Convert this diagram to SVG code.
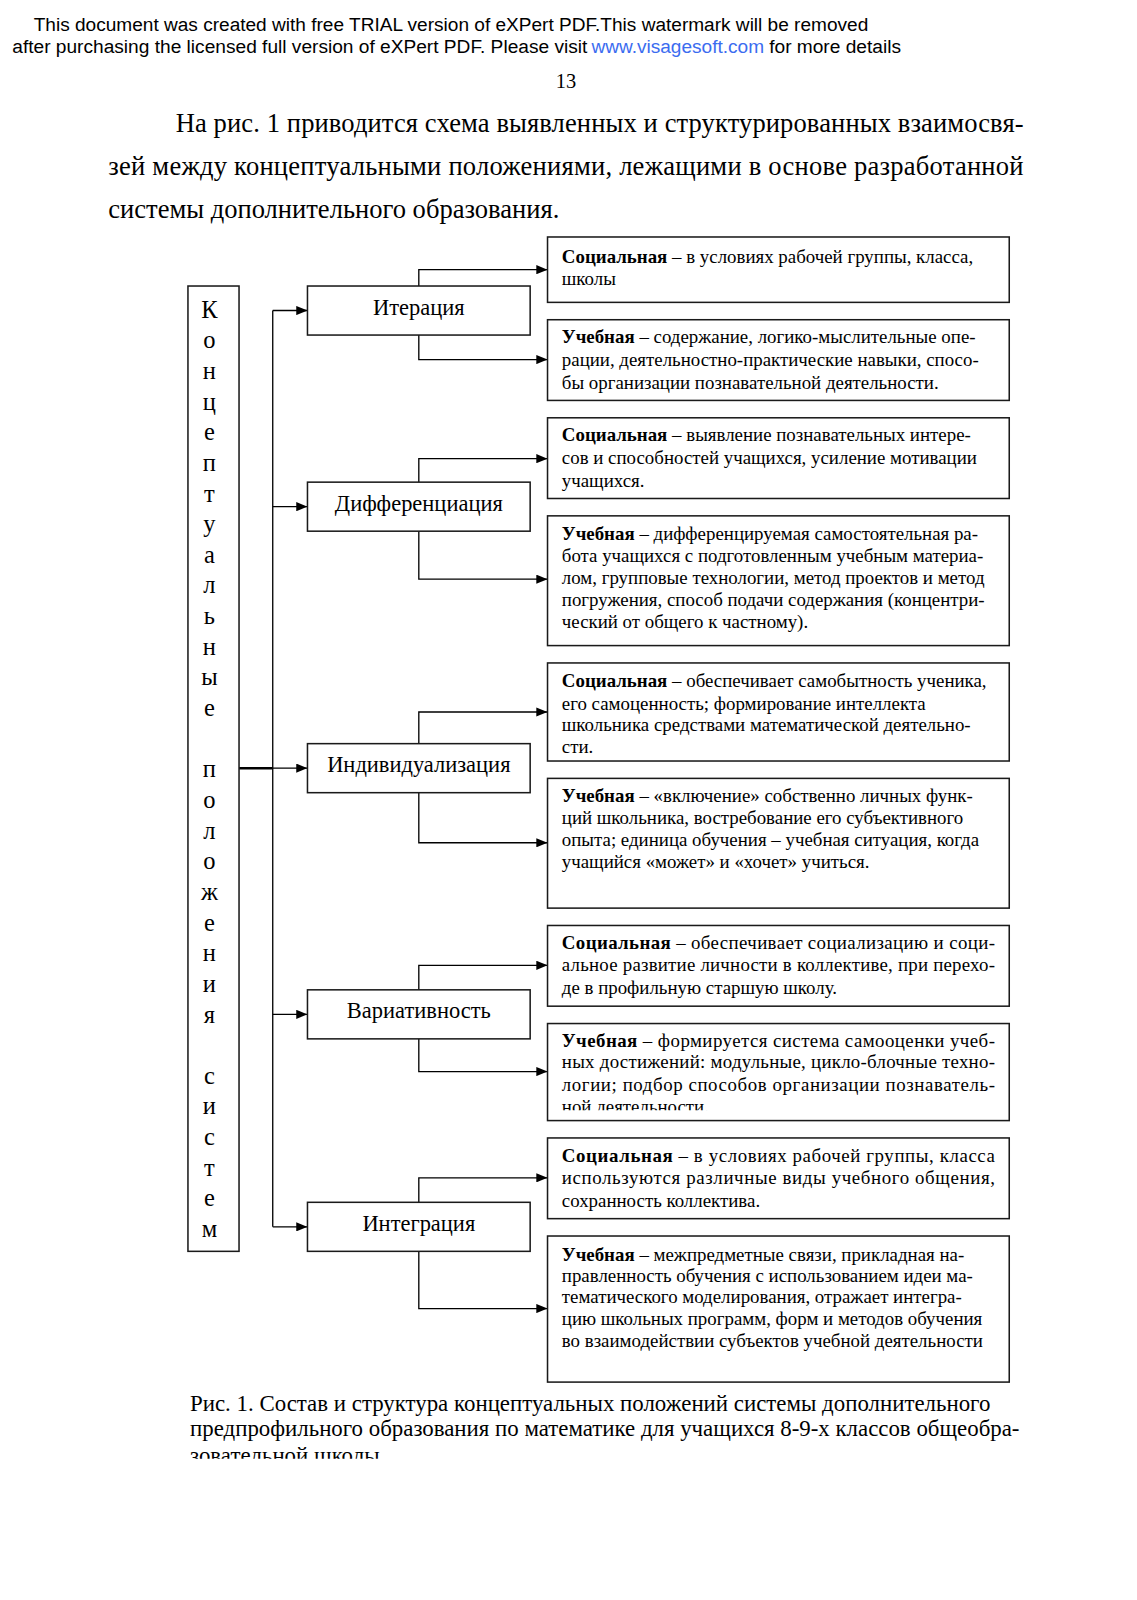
<svg xmlns="http://www.w3.org/2000/svg" width="1137" height="1600" viewBox="0 0 1137 1600">
<style>
.wm{font-family:"Liberation Sans",Arial,sans-serif;font-size:18px;fill:#000}
.lnk{fill:#3b6cf0}
.tm{font-family:"Liberation Serif","Times New Roman",serif;fill:#000}
.para{font-size:26px}
.lt{font-size:24px;text-anchor:middle}
.mid{font-size:22px;text-anchor:middle}
.bx{font-size:18.5px}
.b{font-weight:bold}
.cap{font-size:22.4px}
.box{fill:#fff;stroke:#1a1a1a;stroke-width:1.5}
.con{fill:none;stroke:#000;stroke-width:1.3}
</style>
<defs>
<marker id="ar" markerWidth="11" markerHeight="9" refX="11" refY="4.5" orient="auto" markerUnits="userSpaceOnUse">
<path d="M0,0 L11,4.5 L0,9 Z" fill="#000"/>
</marker>
<clipPath id="clipCap"><rect x="0" y="1350" width="1137" height="78"/></clipPath>
<clipPath id="clipB8"><rect x="536" y="1002" width="452" height="85"/></clipPath>
</defs>
<rect width="1137" height="1600" fill="#fff"/>
<g transform="scale(1.0215)">
<g id="header">
<text class="wm" x="33" y="30" textLength="817" lengthAdjust="spacingAndGlyphs">This document was created with free TRIAL version of eXPert PDF.This watermark will be removed</text>
<text class="wm" x="12" y="52" textLength="563" lengthAdjust="spacingAndGlyphs">after purchasing the licensed full version of eXPert PDF. Please visit</text>
<text class="wm lnk" x="579" y="52" textLength="169" lengthAdjust="spacingAndGlyphs">www.visagesoft.com</text>
<text class="wm" x="753" y="52" textLength="129" lengthAdjust="spacingAndGlyphs">for more details</text>
<text class="tm" x="554" y="86" font-size="20" text-anchor="middle">13</text>
<text class="tm para" x="172" y="129" textLength="830" lengthAdjust="spacing">На рис. 1 приводится схема выявленных и структурированных взаимосвя-</text>
<text class="tm para" x="106" y="171" textLength="896" lengthAdjust="spacing">зей между концептуальными положениями, лежащими в основе разработанной</text>
<text class="tm para" x="106" y="213">системы дополнительного образования.</text>
</g>
<g id="connectors">
<line x1="267" y1="304" x2="267" y2="1201" class="con"/>
<line x1="234" y1="752" x2="267" y2="752" stroke="#000" stroke-width="2.5"/>
<line x1="267" y1="304" x2="301" y2="304" class="con" marker-end="url(#ar)"/>
<line x1="267" y1="496" x2="301" y2="496" class="con" marker-end="url(#ar)"/>
<line x1="267" y1="752" x2="301" y2="752" class="con" marker-end="url(#ar)"/>
<line x1="267" y1="993" x2="301" y2="993" class="con" marker-end="url(#ar)"/>
<line x1="267" y1="1201" x2="301" y2="1201" class="con" marker-end="url(#ar)"/>
<path d="M410,280 V264 H536" class="con" marker-end="url(#ar)"/>
<path d="M410,328 V352 H536" class="con" marker-end="url(#ar)"/>
<path d="M410,472 V449 H536" class="con" marker-end="url(#ar)"/>
<path d="M410,520 V567 H536" class="con" marker-end="url(#ar)"/>
<path d="M410,728 V697 H536" class="con" marker-end="url(#ar)"/>
<path d="M410,776 V825 H536" class="con" marker-end="url(#ar)"/>
<path d="M410,969 V945 H536" class="con" marker-end="url(#ar)"/>
<path d="M410,1017 V1049 H536" class="con" marker-end="url(#ar)"/>
<path d="M410,1177 V1153 H536" class="con" marker-end="url(#ar)"/>
<path d="M410,1225 V1281 H536" class="con" marker-end="url(#ar)"/>
</g>
<g id="root">
<rect class="box" x="184" y="280" width="50" height="945"/>
<text class="tm lt">
<tspan x="205" y="311">К</tspan><tspan x="205" y="341">о</tspan><tspan x="205" y="371">н</tspan><tspan x="205" y="401">ц</tspan><tspan x="205" y="431">е</tspan><tspan x="205" y="461">п</tspan><tspan x="205" y="491">т</tspan><tspan x="205" y="521">у</tspan><tspan x="205" y="551">а</tspan><tspan x="205" y="581">л</tspan><tspan x="205" y="611">ь</tspan><tspan x="205" y="641">н</tspan><tspan x="205" y="671">ы</tspan><tspan x="205" y="701">е</tspan><tspan x="205" y="761">п</tspan><tspan x="205" y="791">о</tspan><tspan x="205" y="821">л</tspan><tspan x="205" y="851">о</tspan><tspan x="205" y="881">ж</tspan><tspan x="205" y="911">е</tspan><tspan x="205" y="941">н</tspan><tspan x="205" y="971">и</tspan><tspan x="205" y="1001">я</tspan><tspan x="205" y="1061">с</tspan><tspan x="205" y="1091">и</tspan><tspan x="205" y="1121">с</tspan><tspan x="205" y="1151">т</tspan><tspan x="205" y="1181">е</tspan><tspan x="205" y="1211">м</tspan>
</text>
</g>
<g id="n-iter"><rect class="box" x="301" y="280" width="218" height="48"/><text class="tm mid" x="410" y="308">Итерация</text></g>
<g id="n-diff"><rect class="box" x="301" y="472" width="218" height="48"/><text class="tm mid" x="410" y="500">Дифференциация</text></g>
<g id="n-ind"><rect class="box" x="301" y="728" width="218" height="48"/><text class="tm mid" x="410" y="756">Индивидуализация</text></g>
<g id="n-var"><rect class="box" x="301" y="969" width="218" height="48"/><text class="tm mid" x="410" y="997">Вариативность</text></g>
<g id="n-int"><rect class="box" x="301" y="1177" width="218" height="48"/><text class="tm mid" x="410" y="1205">Интеграция</text></g>

<g id="b1"><rect class="box" x="536" y="232" width="452" height="64"/>
<text class="tm bx" x="550" y="257"><tspan class="b">Социальная</tspan> – в условиях рабочей группы, класса,</text>
<text class="tm bx" x="550" y="279">школы</text></g>
<g id="b2"><rect class="box" x="536" y="313" width="452" height="79"/>
<text class="tm bx" x="550" y="336"><tspan class="b">Учебная</tspan> – содержание, логико-мыслительные опе-</text>
<text class="tm bx" x="550" y="358">рации, деятельностно-практические навыки, спосо-</text>
<text class="tm bx" x="550" y="381">бы организации познавательной деятельности.</text></g>
<g id="b3"><rect class="box" x="536" y="409" width="452" height="79"/>
<text class="tm bx" x="550" y="432"><tspan class="b">Социальная</tspan> – выявление познавательных интере-</text>
<text class="tm bx" x="550" y="454">сов и способностей учащихся, усиление мотивации</text>
<text class="tm bx" x="550" y="477">учащихся.</text></g>
<g id="b4"><rect class="box" x="536" y="505" width="452" height="127"/>
<text class="tm bx" x="550" y="529"><tspan class="b">Учебная</tspan> – дифференцируемая самостоятельная ра-</text>
<text class="tm bx" x="550" y="550">бота учащихся с подготовленным учебным материа-</text>
<text class="tm bx" x="550" y="572">лом, групповые технологии, метод проектов и метод</text>
<text class="tm bx" x="550" y="593">погружения, способ подачи содержания (концентри-</text>
<text class="tm bx" x="550" y="615">ческий от общего к частному).</text></g>
<g id="b5"><rect class="box" x="536" y="649" width="452" height="96"/>
<text class="tm bx" x="550" y="673"><tspan class="b">Социальная</tspan> – обеспечивает самобытность ученика,</text>
<text class="tm bx" x="550" y="695">его самоценность; формирование интеллекта</text>
<text class="tm bx" x="550" y="716">школьника средствами математической деятельно-</text>
<text class="tm bx" x="550" y="737">сти.</text></g>
<g id="b6"><rect class="box" x="536" y="762" width="452" height="127"/>
<text class="tm bx" x="550" y="785"><tspan class="b">Учебная</tspan> – «включение» собственно личных функ-</text>
<text class="tm bx" x="550" y="807">ций школьника, востребование его субъективного</text>
<text class="tm bx" x="550" y="828">опыта; единица обучения – учебная ситуация, когда</text>
<text class="tm bx" x="550" y="850">учащийся «может» и «хочет» учиться.</text></g>
<g id="b7"><rect class="box" x="536" y="906" width="452" height="79"/>
<text class="tm bx" x="550" y="929" textLength="424" lengthAdjust="spacing"><tspan class="b">Социальная</tspan> – обеспечивает социализацию и соци-</text>
<text class="tm bx" x="550" y="951" textLength="424" lengthAdjust="spacing">альное развитие личности в коллективе, при перехо-</text>
<text class="tm bx" x="550" y="973">де в профильную старшую школу.</text></g>
<g id="b8"><rect class="box" x="536" y="1002" width="452" height="95"/>
<g clip-path="url(#clipB8)">
<text class="tm bx" x="550" y="1025" textLength="424" lengthAdjust="spacing"><tspan class="b">Учебная</tspan> – формируется система самооценки учеб-</text>
<text class="tm bx" x="550" y="1046" textLength="424" lengthAdjust="spacing">ных достижений: модульные, цикло-блочные техно-</text>
<text class="tm bx" x="550" y="1068" textLength="424" lengthAdjust="spacing">логии; подбор способов организации познаватель-</text>
<text class="tm bx" x="550" y="1090">ной деятельности.</text></g></g>
<g id="b9"><rect class="box" x="536" y="1114" width="452" height="79"/>
<text class="tm bx" x="550" y="1138" textLength="424" lengthAdjust="spacing"><tspan class="b">Социальная</tspan> – в условиях рабочей группы, класса</text>
<text class="tm bx" x="550" y="1159" textLength="424" lengthAdjust="spacing">используются различные виды учебного общения,</text>
<text class="tm bx" x="550" y="1182">сохранность коллектива.</text></g>
<g id="b10"><rect class="box" x="536" y="1210" width="452" height="143"/>
<text class="tm bx" x="550" y="1234"><tspan class="b">Учебная</tspan> – межпредметные связи, прикладная на-</text>
<text class="tm bx" x="550" y="1255">правленность обучения с использованием идеи ма-</text>
<text class="tm bx" x="550" y="1276">тематического моделирования, отражает интегра-</text>
<text class="tm bx" x="550" y="1297">цию школьных программ, форм и методов обучения</text>
<text class="tm bx" x="550" y="1319">во взаимодействии субъектов учебной деятельности</text></g>
<g id="caption" clip-path="url(#clipCap)">
<text class="tm cap" x="186" y="1381">Рис. 1. Состав и структура концептуальных положений системы дополнительного</text>
<text class="tm cap" x="186" y="1406" textLength="812" lengthAdjust="spacing">предпрофильного образования по математике для учащихся 8-9-х классов общеобра-</text>
<text class="tm cap" x="186" y="1432">зовательной школы</text>
</g>
</g>
</svg>
